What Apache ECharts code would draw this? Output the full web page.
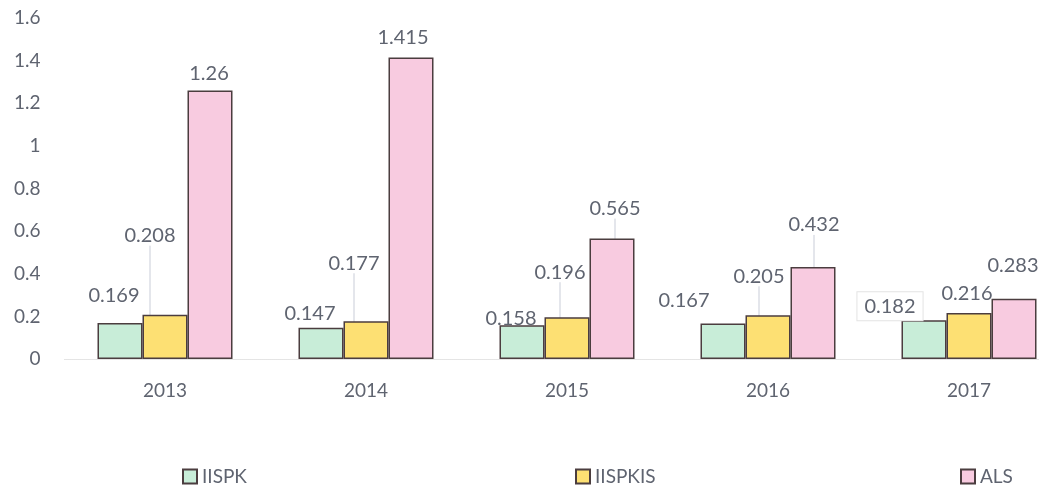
<!DOCTYPE html>
<html>
<head>
<meta charset="utf-8">
<script src="https://cdn.jsdelivr.net/npm/echarts@6/dist/echarts.min.js"></script>
<style>
  html, body { margin: 0; padding: 0; background: #fff; }
  #chart { width: 1039px; height: 488px; }
</style>
</head>
<body>
<div id="chart"></div>
<script>
// 数据
const years = ["2013", "2014", "2015", "2016", "2017"];
const iispk = [0.169, 0.147, 0.158, 0.167, 0.182];
const iispkis = [0.208, 0.177, 0.196, 0.205, 0.216];
const als = [1.26, 1.415, 0.565, 0.432, 0.283];
const yTicks = [0, 0.2, 0.4, 0.6, 0.8, 1, 1.2, 1.4, 1.6];

// 标签微调 [dx, dy]，以及是否画引导线
const labelShift = [
  [[-6, -12], [-11, 1], [-11, 8], [-39, -8], [-34, 5]],
  [[-15, -64], [-12, -43], [-7, -30], [-9, -24], [-2, -4]],
  [[-1, -2], [-8, -5], [3, -15], [1, -27], [-1, -18]]
];
const guideLine = [
  [false, false, false, false, false],
  [true, true, true, true, false],
  [false, false, true, true, false]
];

const textColor = "#5f6470";
const fontFamily = "Lato, 'Noto Sans', sans-serif";

const chart = echarts.init(document.getElementById("chart"));

const makeSeries = (name, values, color, si) => ({
  name,
  type: "bar",
  barWidth: 45,
  barGap: "0%",
  itemStyle: { color, borderColor: "#4b3d3f", borderWidth: 1.5 },
  label: {
    show: true,
    position: "top",
    color: textColor,
    fontSize: 20,
    fontFamily
  },
  labelLine: { show: false, lineStyle: { color: "#c9cdd8", width: 1 } },
  labelLayout: (p) => {
    const s = labelShift[si][p.dataIndex];
    return { dx: s[0], dy: s[1] };
  },
  data: values.map((v, i) => {
    const item = { value: v };
    if (guideLine[si][i]) item.labelLine = { show: true, lineStyle: { color: "#c9cdd8", width: 1 } };
    if (si === 0 && i === 4) {
      item.label = {
        backgroundColor: "#fff",
        borderColor: "#e3e3e3",
        borderWidth: 1,
        padding: [4, 7]
      };
    }
    return item;
  })
});

const legendBase = {
  top: 462,
  icon: "rect",
  itemWidth: 14,
  itemHeight: 14,
  textStyle: { color: textColor, fontSize: 19, fontFamily }
};

const option = {
  animation: false,
  backgroundColor: "#fff",
  grid: { left: 64.5, top: 18, width: 1005, height: 341, outerBoundsMode: "none", containLabel: false },
  legend: [
    Object.assign({ left: 177, data: ["IISPK"] }, legendBase),
    Object.assign({ left: 570, data: ["IISPKIS"] }, legendBase),
    Object.assign({ left: 955, data: ["ALS"] }, legendBase)
  ],
  xAxis: {
    type: "category",
    data: years,
    axisLine: { show: true, lineStyle: { color: "#e2e2e2", type: "dotted", width: 1 } },
    axisTick: { show: false },
    axisLabel: { color: textColor, fontSize: 19, fontFamily, margin: 22 }
  },
  yAxis: {
    type: "value",
    min: yTicks[0],
    max: yTicks[yTicks.length - 1],
    interval: 0.2,
    splitLine: { show: false },
    axisLine: { show: false },
    axisTick: { show: false },
    axisLabel: {
      color: textColor,
      fontSize: 19,
      fontFamily,
      margin: 24,
      formatter: (v) => String(Math.round(v * 10) / 10)
    }
  },
  series: [
    makeSeries("IISPK", iispk, "#c8edd8", 0),
    makeSeries("IISPKIS", iispkis, "#fde073", 1),
    makeSeries("ALS", als, "#f8cbe0", 2)
  ]
};

chart.setOption(option);
</script>
</body>
</html>
